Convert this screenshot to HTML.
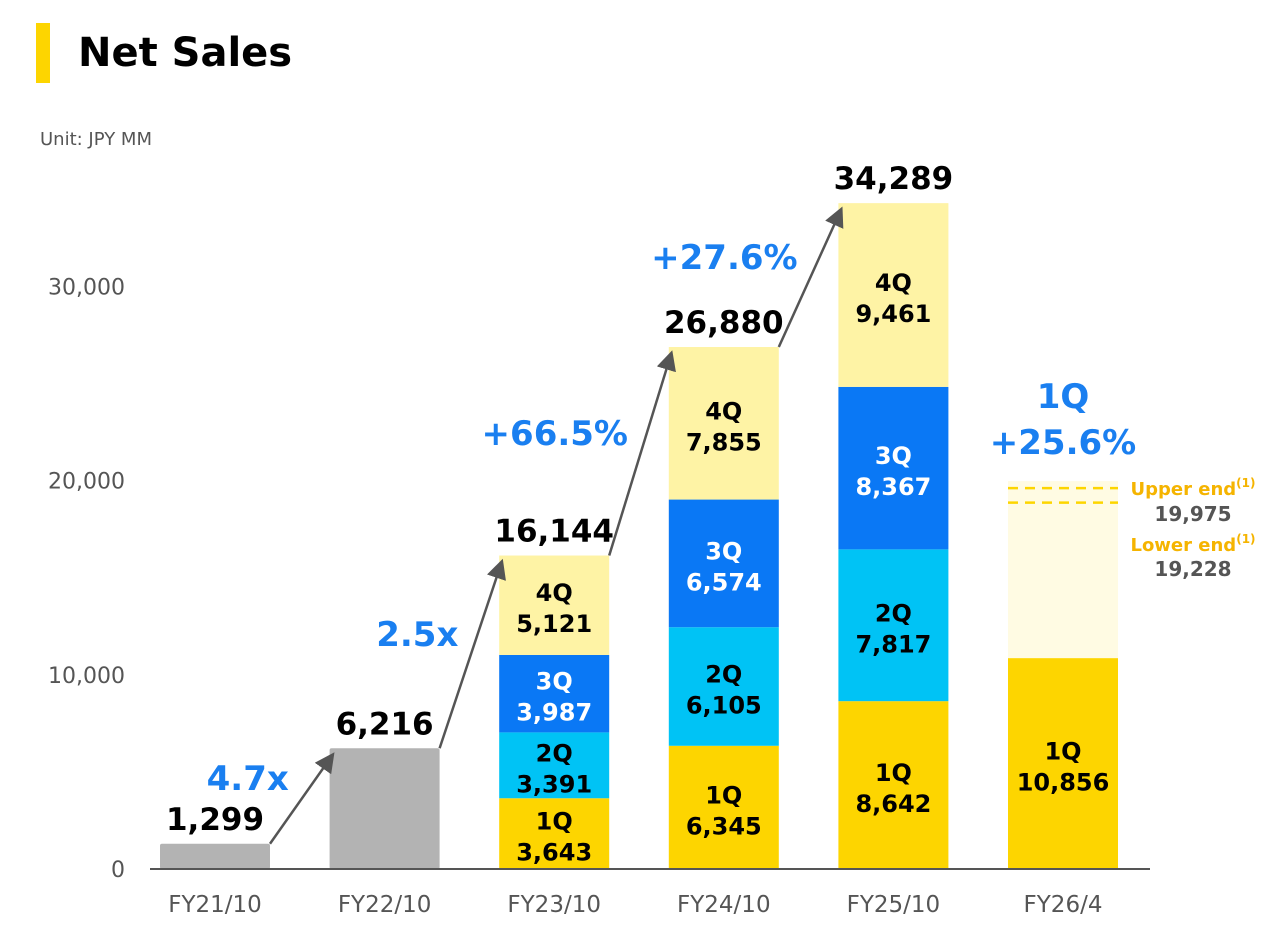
<!DOCTYPE html>
<html><head><meta charset="utf-8"><style>
body{margin:0;background:#fff;width:1288px;height:934px;overflow:hidden;font-family:"Liberation Sans","DejaVu Sans",sans-serif}
svg text{font-family:"DejaVu Sans","Liberation Sans",sans-serif}
</style></head><body>
<svg id="chart" width="1288" height="934">
<rect x="36" y="23" width="14" height="60" fill="#fdd500"/>
<text x="78" y="66" font-size="40" font-weight="bold" fill="#000">Net Sales</text>
<text x="40" y="145" font-size="18" fill="#555">Unit: JPY MM</text>
<g id="g"></g>
</svg>
<script>
const categories=["FY21/10","FY22/10","FY23/10","FY24/10","FY25/10","FY26/4"];
const totals=[1299,6216,16144,26880,34289,null];
const q1=[null,null,3643,6345,8642,10856];
const q2=[null,null,3391,6105,7817,null];
const q3=[null,null,3987,6574,8367,null];
const q4=[null,null,5121,7855,9461,null];
const growthLabels=["4.7x","2.5x","+66.5%","+27.6%"];
const yTicks=[0,10000,20000,30000];
const forecastUpper=19975, forecastLower=19228;
const NS="http://www.w3.org/2000/svg", g=document.getElementById('g');
const y0=869, pxPer=0.01942;
function y(v){return y0-v*pxPer;}
function x(i){return 215+i*169.6;}
const bw=110;
function el(t,a,txt){const e=document.createElementNS(NS,t);for(const k in a)e.setAttribute(k,a[k]);if(txt!=null)e.textContent=txt;g.appendChild(e);return e;}
yTicks.forEach(t=>{const e=el('text',{x:125,y:y(t)+8,'font-size':22,fill:'#555','text-anchor':'end'},t.toLocaleString('en-US'));

});
const qs=[q1,q2,q3,q4],qc=['#fdd500','#00c3f5','#0a78f5','#fef3a5'],qt=['#000','#000','#fff','#000'];
const fb=el('rect',{x:x(5)-bw/2,y:y(forecastUpper),width:bw,height:y(0)-y(forecastUpper),fill:'#fffbe3'});


[forecastUpper,forecastLower].forEach((v,k)=>{const l=el('line',{x1:x(5)-bw/2,x2:x(5)+bw/2,y1:y(v)+7,y2:y(v)+7,stroke:'#fdd500','stroke-width':2.5,'stroke-dasharray':'10 7'});

});
categories.forEach((c,i)=>{
 const cx=x(i);
 if(q1[i]==null){
  const r=el('rect',{x:cx-bw/2,y:y(totals[i]),width:bw,height:y(0)-y(totals[i]),fill:'#b3b3b3',rx:2});
  
  
 } else {
  let base=0;
  qs.forEach((s,k)=>{const v=s[i];if(v==null)return;
   const r=el('rect',{x:cx-bw/2,y:y(base+v),width:bw,height:y(base)-y(base+v),fill:qc[k]});
   
   
   const my=(y(base)+y(base+v))/2;
   const t1=el('text',{x:cx,y:my-4,'font-size':24,'font-weight':'bold',fill:qt[k],'text-anchor':'middle'},(k+1)+'Q');
   
   
   const t2=el('text',{x:cx,y:my+27,'font-size':24,'font-weight':'bold',fill:qt[k],'text-anchor':'middle'},v.toLocaleString('en-US'));
   
   
   base+=v;});
 }
 if(totals[i]!=null){const t=el('text',{x:cx,y:y(totals[i])-14,'font-size':31,'font-weight':'bold',fill:'#000','text-anchor':'middle'},totals[i].toLocaleString('en-US'));
  
  }
 const xl=el('text',{x:cx,y:912,'font-size':23,fill:'#555','text-anchor':'middle'},c);
 
 
});
el('defs',{}).innerHTML='<marker id="ah" markerWidth="8" markerHeight="8" refX="6" refY="4" orient="auto"><path d="M0,0 L8,4 L0,8 z" fill="#555"/></marker>';
growthLabels.forEach((lab,i)=>{
 const x1=x(i)+bw/2,y1=y(totals[i]),x2=x(i+1)-bw/2+2,y2=y(totals[i+1])+8;
 const a=el('line',{x1:x1,y1:y1,x2:x2,y2:y2,stroke:'#555','stroke-width':2.5,'marker-end':'url(#ah)'});
 
 
 const t=el('text',{x:(x1+x2)/2-12,y:(y1+y2)/2-10,'font-size':34,'font-weight':'bold',fill:'#1a7ff0','text-anchor':'end'},lab);
 
 
});
const ax=el('line',{x1:150,x2:1150,y1:y0,y2:y0,stroke:'#555','stroke-width':2});


[['1Q',408],['+25.6%',454]].forEach(([s,yy])=>{const t=el('text',{x:x(5),y:yy,'font-size':34,'font-weight':'bold',fill:'#1a7ff0','text-anchor':'middle'},s);
 
 });
[['Upper end',495,'#f5b400'],[forecastUpper.toLocaleString('en-US'),521,'#555'],['Lower end',551,'#f5b400'],[forecastLower.toLocaleString('en-US'),576,'#555']].forEach(([s,yy,c])=>{
 const t=el('text',{x:1193,y:yy,'font-size':c=='#555'?20:18,'font-weight':'bold',fill:c,'text-anchor':'middle'},s);
 if(c!='#555'){const ts=document.createElementNS(NS,'tspan');ts.setAttribute('font-size','12');ts.setAttribute('dy','-8');ts.textContent='(1)';t.appendChild(ts);}
 
 });
</script>
</body></html>
